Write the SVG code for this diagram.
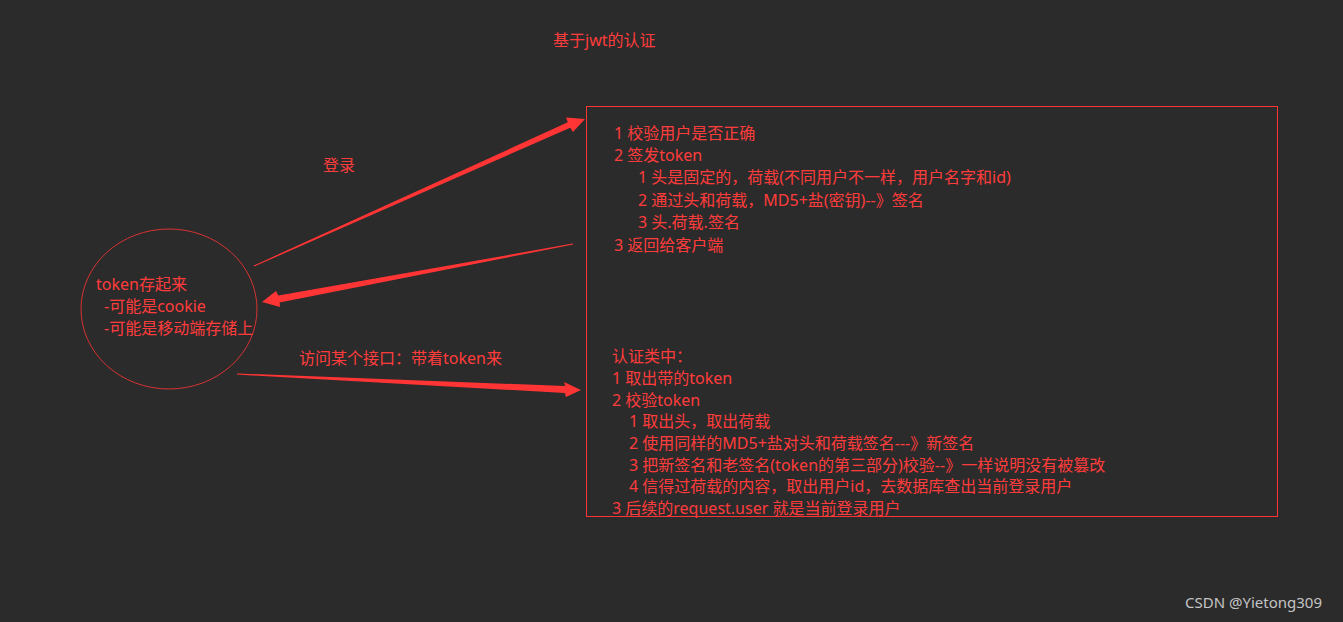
<svg xmlns="http://www.w3.org/2000/svg" width="1343" height="622" viewBox="0 0 1343 622">
<style>
.t{font-family:"Noto Sans","Noto Sans CJK SC",sans-serif;font-size:16px;fill:#ff3c3c}
.w{font-family:"Noto Sans","Noto Sans CJK SC",sans-serif;font-size:15px;fill:#c4c4c4}
.arr{fill:#ff3434}
</style>
<rect x="0" y="0" width="1343" height="622" fill="#2b2b2b"/>
<text class="t" x="553" y="46">基于jwt的认证</text>
<g id="server">
<rect x="586.5" y="106.5" width="691" height="410" fill="none" stroke="#ff3434" stroke-width="1"/>
<text class="t" x="614" y="139">1 校验用户是否正确</text>
<text class="t" x="614" y="161">2 签发token</text>
<text class="t" x="638" y="183">1 头是固定的，荷载(不同用户不一样，用户名字和id)</text>
<text class="t" x="638" y="206">2 通过头和荷载，MD5+盐(密钥)--》签名</text>
<text class="t" x="638" y="228">3 头.荷载.签名</text>
<text class="t" x="614" y="251">3 返回给客户端</text>
<text class="t" x="612" y="362">认证类中：</text>
<text class="t" x="612" y="384">1 取出带的token</text>
<text class="t" x="612" y="406">2 校验token</text>
<text class="t" x="629" y="427">1 取出头，取出荷载</text>
<text class="t" x="629" y="449">2 使用同样的MD5+盐对头和荷载签名---》新签名</text>
<text class="t" x="629" y="471">3 把新签名和老签名(token的第三部分)校验--》一样说明没有被篡改</text>
<text class="t" x="629" y="492">4 信得过荷载的内容，取出用户id，去数据库查出当前登录用户</text>
<text class="t" x="612" y="514">3 后续的request.user 就是当前登录用户</text>
</g>
<g id="client">
<ellipse cx="169" cy="309" rx="88" ry="80" fill="none" stroke="#d83232" stroke-width="1"/>
<text class="t" x="96" y="290">token存起来</text>
<text class="t" x="104" y="312">-可能是cookie</text>
<text class="t" x="104" y="334">-可能是移动端存储上</text>
</g>
<g id="connectors">
<polygon class="arr" points="253.8,265.5 567.8,122.3 566,117.5 585,119 573,132 570.2,127.7 254.2,266.5"/>
<polygon class="arr" points="572.9,243.5 278.4,295.6 276,291 262,302 280,307 279.6,302.4 573.1,244.5"/>
<polygon class="arr" points="237,373.4 565.2,386 564,382 581,390 566,397 564.8,393 237,374.6"/>
<text class="t" x="323" y="171">登录</text>
<text class="t" x="299" y="364">访问某个接口：带着token来</text>
</g>
<text class="w" x="1185" y="608">CSDN @Yietong309</text>
</svg>
